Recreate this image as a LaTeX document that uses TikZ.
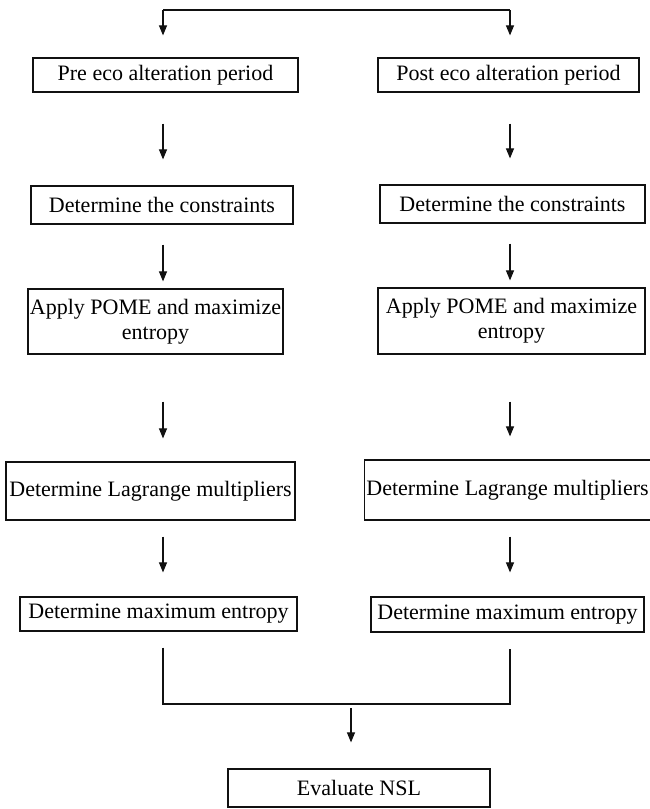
\documentclass[tikz,border=0pt]{standalone}
\usepackage{fontspec}
\setmainfont{Liberation Serif}
\usetikzlibrary{positioning, arrows.meta, calc}
\usepackage{xcolor}
\definecolor{flowline}{HTML}{111111}

\begin{document}
\begin{tikzpicture}[x=1pt, y=-1pt,
    stepbox/.style={draw=flowline, line width=1.2pt, inner sep=2pt, align=center,
                    font=\fontsize{22}{25}\selectfont},
    arr/.style={draw=flowline, line width=1.1pt, -{Triangle[length=10pt, width=8pt]}},
    link/.style={draw=flowline, line width=1.1pt}]
  \useasboundingbox (0,0) rectangle (650,809);

  % arrow columns and junctions
  \coordinate (lx) at (163,10);
  \coordinate (rx) at (510,10);
  \coordinate (mj) at (351,704);

  % pre period column
  \node[stepbox, minimum width=265pt, minimum height=34pt] (pre) at (165.5,75) {Pre eco alteration period};
  \node[stepbox, minimum width=262pt, minimum height=38pt] (lcon) at (162,205) {Determine the constraints};
  \node[stepbox, minimum width=255pt, minimum height=65pt] (lapp) at (155.5,321.5) {Apply POME and maximize\\entropy};
  \node[stepbox, minimum width=289pt, minimum height=58pt] (llag) at (150.5,491) {Determine Lagrange multipliers};
  \node[stepbox, minimum width=277pt, minimum height=34pt] (lmax) at (158.5,614) {Determine maximum entropy};

  % post period column
  \node[stepbox, minimum width=261pt, minimum height=34pt] (post) at (508.5,75) {Post eco alteration period};
  \node[stepbox, minimum width=265pt, minimum height=38pt] (rcon) at (512.5,204) {Determine the constraints};
  \node[stepbox, minimum width=267pt, minimum height=66pt] (rapp) at (511.5,321) {Apply POME and maximize\\entropy};
  \node[stepbox, minimum width=285pt, minimum height=60pt] (rlag) at (507.5,490) {Determine Lagrange multipliers};
  \node[stepbox, minimum width=273pt, minimum height=35pt] (rmax) at (507.5,614.5) {Determine maximum entropy};

  \node[stepbox, minimum width=262pt, minimum height=38pt] (nsl) at (359,788) {Evaluate NSL};

  % fork at the top
  \draw[link] (lx) -- (rx);
  \draw[arr, shorten >=22pt] (lx) -- (pre.north -| lx);
  \draw[arr, shorten >=22pt] (rx) -- (post.north -| rx);

  % steps down each column
  \foreach \col/\na/\nb/\nc/\nd/\ne in {lx/pre/lcon/lapp/llag/lmax, rx/post/rcon/rapp/rlag/rmax} {
    \draw[arr, shorten <=31pt, shorten >=26pt] (\na.south -| \col) -- (\nb.north -| \col);
    \draw[arr, shorten <=20pt, shorten >=7pt] (\nb.south -| \col) -- (\nc.north -| \col);
    \draw[arr, shorten <=47pt, shorten >=23pt] (\nc.south -| \col) -- (\nd.north -| \col);
    \draw[arr, shorten <=16pt, shorten >=24pt] (\nd.south -| \col) -- (\ne.north -| \col);
  }

  % join into the last step
  \draw[link, shorten <=16pt, shorten >=16pt] (lmax.south -| lx) |- (mj) -| (rmax.south -| rx);
  \draw[arr, shorten <=4pt, shorten >=26pt] (mj) -- (nsl.north -| mj);
\end{tikzpicture}
\end{document}
